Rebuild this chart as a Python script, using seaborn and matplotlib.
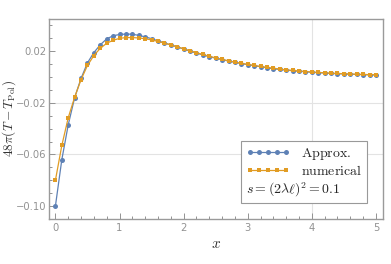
import numpy as np
import pandas as pd
import seaborn as sns
import matplotlib.pyplot as plt
from matplotlib.ticker import MultipleLocator, FuncFormatter

# sample points x = 0, 0.1, ..., 5
x = np.round(np.arange(0, 5.01, 0.1), 1)

approx = [-0.100, -0.064, -0.037, -0.016, -0.001, 0.011, 0.019, 0.025, 0.0296, 0.032,
          0.0330, 0.0333, 0.0332, 0.0323, 0.0312, 0.0297, 0.0281, 0.0265, 0.0249, 0.0234,
          0.0217, 0.0201, 0.0186, 0.0172, 0.0158, 0.0146, 0.0135, 0.0124, 0.0114, 0.0105,
          0.0096, 0.0088, 0.0080, 0.0072, 0.0065, 0.0059, 0.0054, 0.0049, 0.0045, 0.0041,
          0.0037, 0.0034, 0.0031, 0.0028, 0.0026, 0.0024, 0.0022, 0.0020, 0.0019, 0.0017,
          0.0016]
numerical = [-0.080, -0.053, -0.0315, -0.0156, -0.002, 0.009, 0.0167, 0.0223, 0.0262, 0.0285,
             0.0300, 0.0306, 0.0306, 0.0303, 0.0297, 0.0288, 0.0276, 0.0263, 0.0249, 0.0235,
             0.0219, 0.0204, 0.0189, 0.0175, 0.0161, 0.0149, 0.0137, 0.0126, 0.0116, 0.0107,
             0.0098, 0.0090, 0.0082, 0.0075, 0.0068, 0.0062, 0.0056, 0.0051, 0.0047, 0.0043,
             0.0039, 0.0036, 0.0033, 0.0030, 0.0028, 0.0026, 0.0024, 0.0022, 0.0020, 0.0019,
             0.0018]

y_ticks = [-0.10, -0.06, -0.02, 0.02]
x_ticks = [0, 1, 2, 3, 4, 5]

sns.set_theme(style="white")
plt.rcParams["mathtext.fontset"] = "cm"
plt.rcParams["font.family"] = ["DejaVu Sans"]

blue = "#5E81B5"
orange = "#E19C24"
gray = "#929292"

df = pd.DataFrame({"x": x, "approx": approx, "numerical": numerical})

fig = plt.figure(figsize=(3.91, 2.64), dpi=100)
ax = fig.add_axes([49 / 391, 1 - 219 / 264, 334 / 391, 200 / 264])

# grid lines used in the original
for g in [-0.02, -0.06]:
    ax.axhline(g, color="#e3e3e3", lw=0.8, zorder=0)
ax.axvline(4, color="#e3e3e3", lw=0.8, zorder=0)

sns.lineplot(data=df, x="x", y="approx", ax=ax, color=blue, lw=0.9,
             marker="o", markersize=3.6, markeredgewidth=0, label=r"$\mathrm{Approx.}$")
sns.lineplot(data=df, x="x", y="numerical", ax=ax, color=orange, lw=0.9,
             marker="s", markersize=3.0, markeredgewidth=0, label=r"$\mathrm{numerical}$")

ax.set_xlim(-0.1, 5.11)
ax.set_ylim(-0.11, 0.045)
ax.set_xticks(x_ticks)
ax.set_yticks(y_ticks)
ax.xaxis.set_minor_locator(MultipleLocator(0.2))
ax.yaxis.set_minor_locator(MultipleLocator(0.01))
ax.yaxis.set_major_formatter(FuncFormatter(lambda v, p: f"{v:.2f}".replace("-", "\u2212")))
ax.xaxis.set_major_formatter(FuncFormatter(lambda v, p: f"{v:.0f}"))

ax.tick_params(which="both", direction="in", colors=gray, labelsize=7.2, width=0.7,
               bottom=True, left=True, top=False, right=False)
ax.tick_params(which="major", length=4, pad=3)
ax.tick_params(axis="y", which="major", pad=2)
ax.tick_params(which="minor", length=2)
for s in ax.spines.values():
    s.set_color("#9a9a9a")
    s.set_linewidth(1.0)

ax.set_xlabel(r"$x$", fontsize=11, labelpad=2, color="#333333")
ax.set_ylabel(r"$48\pi(T-T_{\mathrm{Pol}})$", fontsize=9.6, color="#333333")
ax.yaxis.set_label_coords(-0.094, 0.5)

leg = ax.legend(loc="lower right", bbox_to_anchor=(0.953, 0.078), borderaxespad=0,
                title=r"$s=(2\lambda\ell)^2=0.1$", title_fontsize=10, fontsize=10,
                alignment="left", numpoints=5, handlelength=3.2, handletextpad=0.8,
                labelspacing=0.15, borderpad=0.35, fancybox=False, framealpha=1,
                edgecolor="#999999")
leg.get_frame().set_linewidth(0.8)
# put the parameter line under the entries
leg._legend_box.get_children().reverse()

fig.savefig("out.png", dpi=100)
